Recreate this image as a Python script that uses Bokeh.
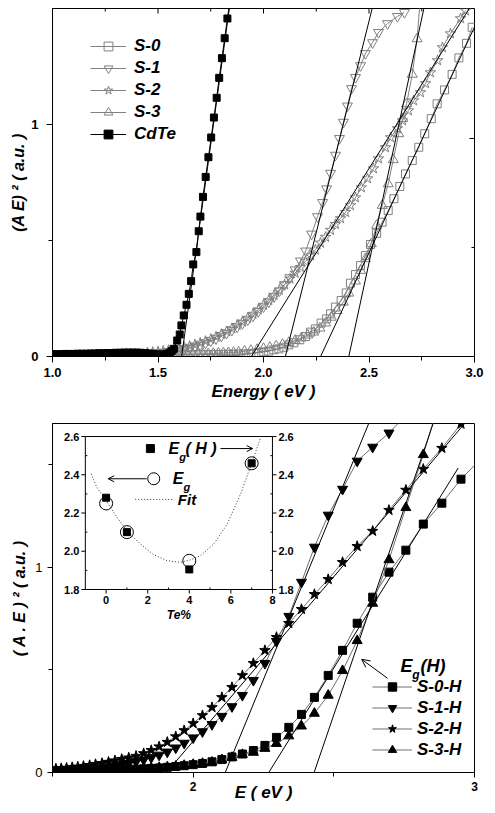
import math
from bokeh.plotting import figure
from bokeh.models import (Range1d, FixedTicker, NumeralTickFormatter, Legend,
                          LegendItem, Label, Arrow, OpenHead)
from bokeh.layouts import column
from bokeh.embed import file_html
from bokeh.resources import INLINE
from bokeh.core.properties import value

SANS = "Liberation Sans"
SERIF = "Liberation Serif"
GRAY_A = "#808080"
GRAY_B = "#6e6e6e"

# ---------------- panel (a) data ----------------
a_x_ticks = [1.0, 1.5, 2.0, 2.5, 3.0]
a_x_minor = [1.25, 1.75, 2.25, 2.75]
a_y_ticks = [0, 1]
a_y_minor = [0.5]
a_right_ticks = [1]
a_right_minor = [0.5]

cdte_e = [1.00, 1.02, 1.04, 1.06, 1.08, 1.10, 1.12, 1.14, 1.16, 1.18, 1.20, 1.22, 1.24, 1.26,
          1.28, 1.30, 1.32, 1.34, 1.36, 1.38, 1.40, 1.42, 1.44, 1.46, 1.48, 1.50, 1.52, 1.54,
          1.555, 1.565, 1.575, 1.591, 1.603, 1.611, 1.622, 1.635, 1.646, 1.657, 1.667, 1.682,
          1.693, 1.701, 1.713, 1.726, 1.739, 1.752, 1.765, 1.778, 1.790, 1.803, 1.816, 1.829, 1.842]
cdte_y = [0.010, 0.010, 0.010, 0.011, 0.011, 0.011, 0.012, 0.012, 0.012, 0.013, 0.013, 0.014,
          0.014, 0.015, 0.015, 0.016, 0.016, 0.017, 0.017, 0.017, 0.017, 0.016, 0.015, 0.013,
          0.011, 0.009, 0.009, 0.011, 0.016, 0.024, 0.033, 0.069, 0.095, 0.134, 0.177, 0.223,
          0.270, 0.325, 0.397, 0.450, 0.540, 0.603, 0.688, 0.774, 0.859, 0.944, 1.030, 1.115,
          1.201, 1.286, 1.372, 1.457, 1.54]

s0_e = [1.45, 1.474, 1.498, 1.522, 1.546, 1.570, 1.594, 1.618, 1.642, 1.666, 1.690, 1.714,
        1.738, 1.762, 1.786, 1.810, 1.834, 1.858, 1.882, 1.906, 1.930, 1.954, 1.978, 2.001,
        2.025, 2.049, 2.073, 2.096, 2.120, 2.144, 2.172, 2.199, 2.223, 2.246, 2.273, 2.299,
        2.318, 2.341, 2.368, 2.392, 2.412, 2.436, 2.460, 2.483, 2.507, 2.536, 2.562, 2.591,
        2.618, 2.646, 2.673, 2.705, 2.736, 2.764, 2.795, 2.823, 2.858, 2.894, 2.926, 2.962, 2.989]
s0_y = [0.005, 0.005, 0.005, 0.006, 0.006, 0.006, 0.006, 0.007, 0.007, 0.007, 0.008, 0.008,
        0.008, 0.009, 0.009, 0.009, 0.010, 0.010, 0.011, 0.011, 0.012, 0.014, 0.017, 0.020,
        0.023, 0.029, 0.033, 0.040, 0.050, 0.059, 0.072, 0.086, 0.105, 0.119, 0.144, 0.162,
        0.184, 0.213, 0.241, 0.274, 0.316, 0.353, 0.392, 0.435, 0.483, 0.531, 0.579, 0.629,
        0.680, 0.733, 0.787, 0.845, 0.902, 0.960, 1.025, 1.089, 1.149, 1.216, 1.287, 1.350, 1.419]

s1_e = [1.45, 1.475, 1.50, 1.525, 1.55, 1.575, 1.60, 1.625, 1.65, 1.675, 1.70, 1.725, 1.75,
        1.775, 1.80, 1.825, 1.85, 1.875, 1.90, 1.925, 1.95, 1.975, 2.00, 2.025, 2.05, 2.075,
        2.10, 2.125, 2.15, 2.175, 2.20, 2.228, 2.256, 2.280, 2.299, 2.318, 2.341, 2.360, 2.379,
        2.398, 2.417, 2.436, 2.460, 2.483, 2.517, 2.545, 2.588, 2.635, 2.668]
s1_y = [0.012, 0.014, 0.016, 0.018, 0.021, 0.024, 0.028, 0.032, 0.037, 0.043, 0.050, 0.058,
        0.067, 0.077, 0.088, 0.100, 0.113, 0.127, 0.142, 0.158, 0.175, 0.194, 0.214, 0.235,
        0.258, 0.283, 0.310, 0.340, 0.374, 0.412, 0.455, 0.528, 0.603, 0.664, 0.723, 0.790,
        0.868, 0.940, 1.010, 1.080, 1.155, 1.203, 1.254, 1.306, 1.353, 1.397, 1.435, 1.466, 1.483]

s2_e = [1.45, 1.475, 1.50, 1.525, 1.55, 1.575, 1.60, 1.625, 1.65, 1.675, 1.70, 1.725, 1.75,
        1.775, 1.80, 1.825, 1.85, 1.875, 1.90, 1.925, 1.95, 1.975, 2.00, 2.025, 2.05, 2.075,
        2.10, 2.125, 2.15, 2.175, 2.199, 2.223, 2.246, 2.270, 2.294, 2.318, 2.341, 2.365, 2.389,
        2.412, 2.436, 2.464, 2.493, 2.521, 2.545, 2.578, 2.602, 2.635, 2.659, 2.687, 2.711,
        2.744, 2.768, 2.791, 2.825, 2.848, 2.886, 2.934, 2.957]
s2_y = [0.017, 0.019, 0.021, 0.024, 0.027, 0.031, 0.035, 0.040, 0.045, 0.051, 0.058, 0.066,
        0.075, 0.085, 0.096, 0.108, 0.121, 0.135, 0.150, 0.166, 0.183, 0.202, 0.222, 0.243,
        0.265, 0.287, 0.310, 0.335, 0.360, 0.385, 0.410, 0.435, 0.460, 0.490, 0.515, 0.545,
        0.570, 0.595, 0.622, 0.651, 0.685, 0.728, 0.767, 0.810, 0.853, 0.901, 0.944, 0.983,
        1.017, 1.060, 1.103, 1.138, 1.177, 1.224, 1.276, 1.332, 1.392, 1.457, 1.491]

s3_e = [1.45, 1.474, 1.498, 1.522, 1.546, 1.570, 1.594, 1.618, 1.642, 1.666, 1.690, 1.714,
        1.738, 1.762, 1.786, 1.810, 1.834, 1.858, 1.882, 1.91, 1.94, 1.97, 2.00, 2.03, 2.06,
        2.09, 2.12, 2.15, 2.18, 2.21, 2.238, 2.267, 2.294, 2.321, 2.349, 2.378, 2.404, 2.436,
        2.460, 2.483, 2.511, 2.536, 2.563, 2.591, 2.615, 2.641, 2.660, 2.678, 2.705, 2.728, 2.75]
s3_y = [0.007, 0.007, 0.007, 0.008, 0.008, 0.008, 0.009, 0.009, 0.010, 0.010, 0.011, 0.011,
        0.012, 0.013, 0.014, 0.015, 0.016, 0.017, 0.019, 0.023, 0.026, 0.030, 0.034, 0.039,
        0.045, 0.052, 0.060, 0.069, 0.080, 0.092, 0.105, 0.122, 0.144, 0.169, 0.198, 0.234,
        0.273, 0.325, 0.371, 0.421, 0.486, 0.565, 0.651, 0.744, 0.848, 0.960, 1.025, 1.089,
        1.216, 1.369, 1.62]

# tangent (extrapolation) lines, panel (a): CdTe, S-2, S-1, S-0, S-3
a_tan_e0 = [1.603, 1.935, 2.089, 2.255, 2.390]
a_tan_y0 = [-0.06, -0.01, -0.053, -0.03, -0.06]
a_tan_e1 = [1.838, 2.975, 2.515, 3.000, 2.760]
a_tan_y1 = [1.50, 1.50, 1.50, 1.42, 1.50]

# ---------------- panel (b) data ----------------
b_x_ticks = [2, 3]
b_x_minor = [1.5, 2.5]
b_y_ticks = [0, 1]
b_y_minor = [0.5, 1.5]

energy_b = [1.512, 1.531, 1.550, 1.570, 1.590, 1.610, 1.632, 1.653, 1.676, 1.699, 1.722, 1.746,
            1.771, 1.797, 1.824, 1.851, 1.879, 1.908, 1.938, 1.968, 2.000, 2.033, 2.067, 2.102,
            2.138, 2.175, 2.214, 2.255, 2.296, 2.340, 2.385, 2.431, 2.480, 2.531, 2.583, 2.638,
            2.696, 2.756, 2.818, 2.884, 2.952, 3.024]
s0h_y = [0.008, 0.008, 0.009, 0.009, 0.010, 0.010, 0.011, 0.011, 0.012, 0.012, 0.013, 0.014,
         0.015, 0.016, 0.018, 0.020, 0.022, 0.025, 0.029, 0.033, 0.038, 0.044, 0.052, 0.063,
         0.076, 0.090, 0.107, 0.132, 0.171, 0.220, 0.283, 0.366, 0.473, 0.595, 0.727, 0.854,
         0.976, 1.083, 1.210, 1.312, 1.429, 1.53]
s1h_y = [0.009, 0.010, 0.011, 0.012, 0.013, 0.015, 0.017, 0.020, 0.023, 0.027, 0.032, 0.038,
         0.045, 0.053, 0.062, 0.073, 0.085, 0.100, 0.120, 0.143, 0.169, 0.199, 0.234, 0.274,
         0.321, 0.376, 0.449, 0.532, 0.639, 0.761, 0.927, 1.098, 1.254, 1.380, 1.517, 1.585,
         1.654, 1.74, 1.82, 1.90, 1.98, 2.05]
s2h_y = [0.018, 0.020, 0.022, 0.025, 0.028, 0.031, 0.035, 0.040, 0.045, 0.051, 0.058, 0.065,
         0.072, 0.080, 0.093, 0.108, 0.126, 0.148, 0.175, 0.205, 0.239, 0.278, 0.317, 0.366,
         0.415, 0.473, 0.532, 0.595, 0.659, 0.727, 0.795, 0.868, 0.941, 1.024, 1.102, 1.176,
         1.278, 1.376, 1.478, 1.580, 1.698, 1.82]
s3h_y = [0.010, 0.010, 0.011, 0.011, 0.012, 0.012, 0.013, 0.013, 0.014, 0.015, 0.016, 0.017,
         0.018, 0.019, 0.020, 0.022, 0.024, 0.027, 0.030, 0.034, 0.039, 0.044, 0.050, 0.062,
         0.073, 0.087, 0.098, 0.117, 0.141, 0.178, 0.226, 0.288, 0.376, 0.496, 0.642, 0.824,
         1.036, 1.290, 1.548, 1.85, 2.15, 2.45]

# tangent lines, panel (b): S-0-H, S-1-H, S-2-H, S-3-H
b_tan_e0 = [2.255, 2.108, 1.905, 2.415]
b_tan_y0 = [-0.03, -0.02, 0.0, -0.06]
b_tan_e1 = [2.942, 2.624, 2.965, 2.853]
b_tan_y1 = [1.483, 1.70, 1.70, 1.70]

# inset: band gap vs Te%
inset_te = [0, 1, 4, 7]
inset_eg = [2.25, 2.10, 1.95, 2.46]
inset_egh = [2.28, 2.10, 1.905, 2.46]
fit_te = [-0.72, -0.45, 0.0, 0.52, 1.0, 1.64, 2.29, 2.93, 3.57, 4.06, 4.54, 5.18, 5.83, 6.47, 7.0, 7.45]
fit_eg = [2.405, 2.335, 2.265, 2.178, 2.108, 2.038, 1.982, 1.951, 1.942, 1.955, 1.977, 2.038,
          2.143, 2.300, 2.460, 2.600]
inset_x_ticks = [0, 2, 4, 6, 8]
inset_x_minor = [1, 3, 5, 7]
inset_y_ticks = [1.8, 2.0, 2.2, 2.4, 2.6]
inset_y_minor = [1.9, 2.1, 2.3, 2.5]


def style_axis(ax, tick_font_style="bold", size="13px"):
    ax.axis_line_color = "black"
    ax.axis_line_width = 1
    ax.major_tick_line_color = "black"
    ax.minor_tick_line_color = "black"
    ax.major_label_text_font = SANS
    ax.major_label_text_font_style = tick_font_style
    ax.major_label_text_font_size = size
    ax.major_label_text_color = "black"
    ax.axis_label_text_font = SANS
    ax.axis_label_text_font_style = "bold italic"
    ax.axis_label_text_color = "black"


# ======================= panel (a) =======================
pa = figure(width=495, height=405, x_range=Range1d(1.0, 3.0), y_range=Range1d(0, 1.5),
            output_backend="svg", toolbar_location=None,
            min_border_left=52, min_border_right=21, min_border_top=8, min_border_bottom=49)
pa.background_fill_color = "white"
pa.border_fill_color = "white"
pa.outline_line_color = "black"
pa.xgrid.visible = False
pa.ygrid.visible = False

xa = pa.xaxis[0]
xa.ticker = FixedTicker(ticks=a_x_ticks, minor_ticks=a_x_minor)
xa.formatter = NumeralTickFormatter(format="0.0")
xa.axis_label = "Energy ( eV )"
style_axis(xa)
xa.axis_label_text_font_size = "17px"
xa.major_tick_out = 6
xa.major_tick_in = 0
xa.minor_tick_out = 4
xa.minor_tick_in = 0
xa.major_label_standoff = 5
xa.axis_label_standoff = 2

ya = pa.yaxis[0]
ya.ticker = FixedTicker(ticks=a_y_ticks, minor_ticks=a_y_minor)
ya.axis_label = "(A E) \u00b2 ( a.u. )"
style_axis(ya)
ya.axis_label_text_font_size = "16px"
ya.major_tick_out = 6
ya.major_tick_in = 0
ya.minor_tick_out = 4
ya.minor_tick_in = 0
ya.major_label_standoff = 8
ya.axis_label_standoff = 1

# mirrored ticks on the top and right frame edges (no labels)
pa.extra_y_ranges = {"yr": Range1d(0, 1.596)}
pa.ray(x=a_x_ticks, y=pa.y_range.end, length=5, length_units="screen", angle=-math.pi / 2,
       line_color="black", line_width=1)
pa.ray(x=a_x_minor, y=pa.y_range.end, length=3, length_units="screen", angle=-math.pi / 2,
       line_color="black", line_width=1)
pa.ray(x=pa.x_range.end, y=a_right_ticks, length=5, length_units="screen", angle=math.pi,
       line_color="black", line_width=1, y_range_name="yr")
pa.ray(x=pa.x_range.end, y=a_right_minor, length=3, length_units="screen", angle=math.pi,
       line_color="black", line_width=1, y_range_name="yr")

series_a = [
    ("S-0", s0_e, s0_y, "square", 8),
    ("S-1", s1_e, s1_y, "inverted_triangle", 10),
    ("S-2", s2_e, s2_y, "star", 11),
    ("S-3", s3_e, s3_y, "triangle", 10),
]
items_a = []
for name, ex, ey, mk, sz in series_a:
    ln = pa.line(ex, ey, line_color=GRAY_A, line_width=1)
    pts = pa.scatter(ex, ey, marker=mk, size=sz, fill_color=None, line_color=GRAY_A, line_width=1)
    items_a.append(LegendItem(label=name, renderers=[ln, pts]))
ln = pa.line(cdte_e, cdte_y, line_color="black", line_width=1)
pts = pa.scatter(cdte_e, cdte_y, marker="square", size=7, fill_color="black", line_color="black")
items_a.append(LegendItem(label="CdTe", renderers=[ln, pts]))

for e0, y0, e1, y1 in zip(a_tan_e0, a_tan_y0, a_tan_e1, a_tan_y1):
    pa.add_layout(Arrow(start=None, end=None, x_start=e0, y_start=y0, x_end=e1, y_end=y1,
                        line_color="black", line_width=1))

leg_a = Legend(items=items_a, location=(38, 211), orientation="vertical", glyph_width=36,
               glyph_height=22, label_height=20, spacing=0, label_standoff=8, padding=0,
               margin=0, border_line_alpha=0, background_fill_alpha=0,
               label_text_font=SANS, label_text_font_style="bold italic",
               label_text_font_size="17px", label_text_color="black")
pa.add_layout(leg_a)

pa.add_layout(Label(x=0.848, y=1.459, text="(a)", text_align="center", text_baseline="middle",
                    text_font=SERIF, text_font_size="19px", text_color="black"))

# ======================= panel (b) =======================
pb = figure(width=495, height=408, x_range=Range1d(1.5, 3.0), y_range=Range1d(0, 1.70),
            output_backend="svg", toolbar_location=None,
            min_border_left=52, min_border_right=19, min_border_top=18, min_border_bottom=41)
pb.background_fill_color = "white"
pb.border_fill_color = "white"
pb.outline_line_color = "black"
pb.xgrid.visible = False
pb.ygrid.visible = False

xb = pb.xaxis[0]
xb.ticker = FixedTicker(ticks=b_x_ticks, minor_ticks=b_x_minor)
xb.axis_label = "E ( eV )"
style_axis(xb, "bold", "12px")
xb.axis_label_text_font_size = "17px"
xb.major_tick_out = 5
xb.major_tick_in = 0
xb.minor_tick_out = 4
xb.minor_tick_in = 0
xb.major_label_standoff = 4
xb.axis_label_standoff = -11

yb = pb.yaxis[0]
yb.ticker = FixedTicker(ticks=b_y_ticks, minor_ticks=b_y_minor)
yb.axis_label = "( A . E ) \u00b2 ( a.u. )"
style_axis(yb, "normal", "13px")
yb.axis_label_text_font_size = "16px"
yb.major_tick_out = 5
yb.major_tick_in = 0
yb.minor_tick_out = 4
yb.minor_tick_in = 0
yb.major_label_standoff = 5
yb.axis_label_standoff = 4

series_b = [
    ("S-0-H", s0h_y, "square", 8),
    ("S-1-H", s1h_y, "inverted_triangle", 10),
    ("S-2-H", s2h_y, "star", 11),
    ("S-3-H", s3h_y, "triangle", 10),
]
items_b = []
for name, ey, mk, sz in series_b:
    ln = pb.line(energy_b, ey, line_color=GRAY_B, line_width=1)
    pts = pb.scatter(energy_b, ey, marker=mk, size=sz, fill_color="black", line_color="black")
    items_b.append(LegendItem(label=name, renderers=[ln, pts]))

for e0, y0, e1, y1 in zip(b_tan_e0, b_tan_y0, b_tan_e1, b_tan_y1):
    pb.add_layout(Arrow(start=None, end=None, x_start=e0, y_start=y0, x_end=e1, y_end=y1,
                        line_color="black", line_width=1))

leg_b = Legend(items=items_b, location=(320, 12), orientation="vertical", glyph_width=40,
               glyph_height=21, label_height=19, spacing=0, label_standoff=5, padding=0,
               margin=0, border_line_alpha=0, background_fill_alpha=0,
               label_text_font=SANS, label_text_font_style="bold italic",
               label_text_font_size="17px", label_text_color="black")
pb.add_layout(leg_b)

# legend header E_g (H) and arrow
pb.add_layout(Label(x=2.737, y=0.517, text="E", text_baseline="middle", text_font=SANS,
                    text_font_style="bold italic", text_font_size="18px", text_color="black"))
pb.add_layout(Label(x=2.779, y=0.474, text="g", text_baseline="middle", text_font=SANS,
                    text_font_style="bold italic", text_font_size="12px", text_color="black"))
pb.add_layout(Label(x=2.808, y=0.517, text="(H)", text_baseline="middle", text_font=SANS,
                    text_font_style="bold italic", text_font_size="18px", text_color="black"))
pb.add_layout(Arrow(end=OpenHead(size=8, line_width=1, line_color="black"),
                    x_start=2.691, y_start=0.459, x_end=2.599, y_end=0.551,
                    line_color="black", line_width=1))

pb.add_layout(Label(x=1.39, y=1.676, text="(b)", text_align="center", text_baseline="middle",
                    text_font=SERIF, text_font_size="19px", text_color="black"))

# ---------------- inset ----------------
INSET_X = (1.6167, 2.2818)   # position of the inset box on panel (b)
INSET_Y = (0.8914, 1.6366)
ins_xr = Range1d(-1, 8)
ins_yr = Range1d(1.8, 2.6)
ins = pb.subplot(x_source=ins_xr, y_source=ins_yr,
                 x_target=Range1d(INSET_X[0], INSET_X[1]), y_target=Range1d(INSET_Y[0], INSET_Y[1]))


def ipx(x):
    return INSET_X[0] + (x - ins_xr.start) / (ins_xr.end - ins_xr.start) * (INSET_X[1] - INSET_X[0])


def ipy(y):
    return INSET_Y[0] + (y - ins_yr.start) / (ins_yr.end - ins_yr.start) * (INSET_Y[1] - INSET_Y[0])


ins.quad(left=[ins_xr.start], right=[ins_xr.end], bottom=[ins_yr.start], top=[ins_yr.end],
         fill_color="white", line_color="black", line_width=1)
# ticks
ins.ray(x=ins_xr.start, y=inset_y_ticks, length=4, length_units="screen", angle=math.pi, line_color="black")
ins.ray(x=ins_xr.start, y=inset_y_minor, length=2, length_units="screen", angle=0, line_color="black")
ins.ray(x=ins_xr.end, y=inset_y_ticks, length=4, length_units="screen", angle=0, line_color="black")
ins.ray(x=ins_xr.end, y=inset_y_minor, length=2, length_units="screen", angle=math.pi, line_color="black")
ins.ray(x=inset_x_ticks, y=ins_yr.start, length=4, length_units="screen", angle=-math.pi / 2, line_color="black")
ins.ray(x=inset_x_minor, y=ins_yr.start, length=2, length_units="screen", angle=math.pi / 2, line_color="black")
ytl = ["%.1f" % v for v in inset_y_ticks]
ins.text(x=ins_xr.start, y=inset_y_ticks, text=ytl, x_offset=-6, text_align="right",
         text_baseline="middle", text_font=value(SANS), text_font_style="bold",
         text_font_size="11px", text_color="black")
ins.text(x=ins_xr.end, y=inset_y_ticks, text=ytl, x_offset=6, text_align="left",
         text_baseline="middle", text_font=value(SANS), text_font_style="bold",
         text_font_size="11px", text_color="black")
ins.text(x=inset_x_ticks, y=ins_yr.start, text=[str(v) for v in inset_x_ticks], y_offset=6,
         text_align="center", text_baseline="top", text_font=value(SANS), text_font_style="bold",
         text_font_size="11px", text_color="black")
ins.text(x=[3.5], y=[ins_yr.start], text=["Te%"], y_offset=18, text_align="center",
         text_baseline="top", text_font=value(SANS), text_font_style="bold italic",
         text_font_size="12px", text_color="black")
# data
ins.line(fit_te, fit_eg, line_color="#333333", line_width=1, line_dash="1 2")
ins.scatter(inset_te, inset_eg, marker="circle", size=13, fill_color=None, line_color="black", line_width=1)
ins.scatter(inset_te, inset_egh, marker="square", size=7, fill_color="black", line_color="black")
# inset legend
ins.scatter([2.13], [2.537], marker="square", size=8, fill_color="black", line_color="black")
ins.text(x=[3.0], y=[2.537], text=["E"], text_baseline="middle", text_font=value(SANS),
         text_font_style="bold italic", text_font_size="16px", text_color="black")
ins.text(x=[3.52], y=[2.495], text=["g"], text_baseline="middle", text_font=value(SANS),
         text_font_style="bold italic", text_font_size="11px", text_color="black")
ins.text(x=[3.82], y=[2.537], text=["( H )"], text_baseline="middle", text_font=value(SANS),
         text_font_style="bold italic", text_font_size="16px", text_color="black")
pb.add_layout(Arrow(end=OpenHead(size=6, line_width=1, line_color="black"),
                    x_start=ipx(5.5), y_start=ipy(2.537), x_end=ipx(7.05), y_end=ipy(2.537),
                    line_color="black", line_width=1))
ins.scatter([2.29], [2.379], marker="circle", size=12, fill_color="white", line_color="black", line_width=1)
pb.add_layout(Arrow(end=OpenHead(size=6, line_width=1, line_color="black"),
                    x_start=ipx(1.95), y_start=ipy(2.379), x_end=ipx(0.1), y_end=ipy(2.379),
                    line_color="black", line_width=1))
ins.text(x=[3.2], y=[2.379], text=["E"], text_baseline="middle", text_font=value(SANS),
         text_font_style="bold italic", text_font_size="16px", text_color="black")
ins.text(x=[3.72], y=[2.337], text=["g"], text_baseline="middle", text_font=value(SANS),
         text_font_style="bold italic", text_font_size="11px", text_color="black")
ins.line([1.4, 3.2], [2.271, 2.271], line_color="#333333", line_width=1, line_dash="1 2")
ins.text(x=[3.45], y=[2.271], text=["Fit"], text_baseline="middle", text_font=value(SANS),
         text_font_style="bold italic", text_font_size="15px", text_color="black")

layout = column(pa, pb, spacing=0)
open("out.html", "w").write(file_html(layout, INLINE))
